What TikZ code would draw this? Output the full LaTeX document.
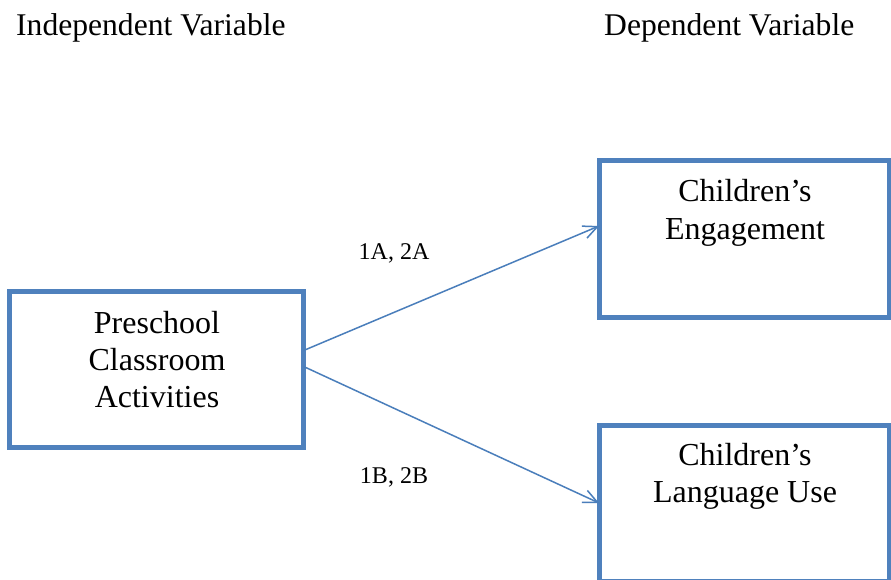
\documentclass[tikz,border=0pt]{standalone}
\usepackage{fontspec}
\setmainfont{Liberation Serif}
\usetikzlibrary{arrows.meta}
\definecolor{boxblue}{HTML}{4F81BD}
\definecolor{arrblue}{HTML}{4A7EBB}
\tikzset{
  vbox/.style={draw=boxblue, line width=5pt, rectangle, inner sep=0pt, outer sep=0pt},
  boxtext/.style={anchor=base, align=center, font=\fontsize{32}{37}\selectfont, inner sep=0pt},
  heading/.style={anchor=base west, font=\fontsize{31.6}{37}\selectfont, inner sep=0pt},
  lbl/.style={anchor=base, font=\fontsize{24}{28}\selectfont, inner sep=0pt},
  arr/.style={draw=arrblue, line width=1.5pt, -{Straight Barb[length=14pt,width=13pt,line width=1.5pt]}}
}
\begin{document}
\begin{tikzpicture}[x=1pt,y=-1pt]
\useasboundingbox[fill=white] (0,0) rectangle (891,580);
\node[heading] (iv) at (16,36) {Independent Variable};
\node[heading] (dv) at (604,36) {Dependent Variable};
\node[vbox, minimum width=294pt, minimum height=156pt] (pre) at (156.6,369.5) {};
\node[vbox, minimum width=290pt, minimum height=156pt] (eng) at (744,239) {};
\node[vbox, minimum width=290pt, minimum height=156pt] (lang) at (744,503) {};
\node[boxtext] (pret) at (157,407) {Preschool\\Classroom\\Activities};
\node[boxtext] (engt) at (745,239) {Children’s\\Engagement};
\node[boxtext] (langt) at (745,502) {Children’s\\Language Use};
\coordinate (s1) at ([yshift=19pt]pre.east);
\coordinate (s2) at ([yshift=3pt]pre.east);
\coordinate (e1) at ([yshift=13pt]eng.west);
\coordinate (e2) at ([yshift=0pt]lang.west);
\draw[arr] (s1) -- (e1);
\draw[arr] (s2) -- (e2);
\node[lbl] (l1) at (394,259) {1A, 2A};
\node[lbl] (l2) at (394,483) {1B, 2B};
\end{tikzpicture}
\end{document}
